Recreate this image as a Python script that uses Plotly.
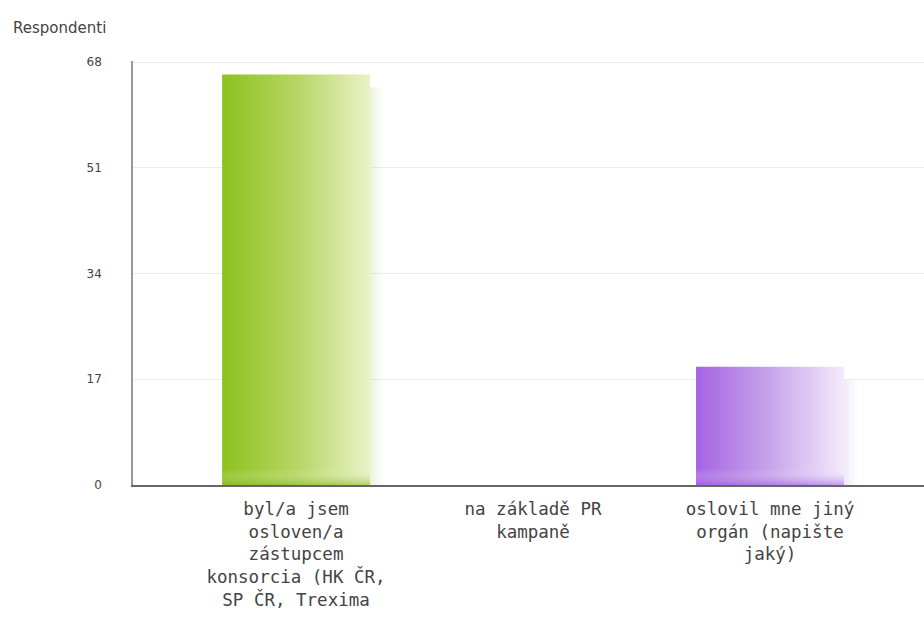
import plotly.graph_objects as go

# ---- data ----
categories = [
    "byl/a jsem<br>osloven/a<br>zástupcem<br>konsorcia (HK ČR,<br>SP ČR, Trexima",
    "na základě PR<br>kampaně",
    "oslovil mne jiný<br>orgán (napište<br>jaký)",
]
values = [66, 0, 19]
y_ticks = [0, 17, 34, 51, 68]
y_title = "Respondenti"

# ---- styles ----
bar_gradients = [
    ("#8cc21e", "#b6d563", "#eaf2c8"),
    ("#8cc21e", "#b6d563", "#eaf2c8"),
    ("#a463e2", "#c8a4ea", "#f3eafc"),
]
shadow_cols = [
    ("rgba(175,205,115,0.45)", "rgba(215,230,180,0.0)"),
    ("rgba(175,205,115,0.45)", "rgba(215,230,180,0.0)"),
    ("rgba(195,165,228,0.45)", "rgba(230,215,245,0.0)"),
]
bottom_cols = ["rgba(130,185,20,0.55)", "rgba(130,185,20,0.55)", "rgba(160,90,225,0.55)"]

BAR_W = 0.624
DX = 0.065   # shadow offset (x units)
DY = 2.1     # shadow offset (y units)

fig = go.Figure()

for i, (v, g, sc, bc) in enumerate(zip(values, bar_gradients, shadow_cols, bottom_cols)):
    if v <= 0:
        continue
    x0, x1 = i - BAR_W / 2, i + BAR_W / 2
    # soft shadow
    fig.add_trace(go.Scatter(
        x=[x0 + DX, x1 + DX, x1 + DX, x0 + DX, x0 + DX],
        y=[0, 0, v - DY, v - DY, 0],
        fill="toself", mode="lines", line=dict(width=0),
        fillgradient=dict(type="horizontal",
                          colorscale=[[0, sc[0]], [0.85, sc[0]], [1, sc[1]]]),
        hoverinfo="skip", showlegend=False,
    ))
    # main bar with horizontal gradient
    fig.add_trace(go.Scatter(
        x=[x0, x1, x1, x0, x0],
        y=[0, 0, v, v, 0],
        fill="toself", mode="lines", line=dict(width=0),
        fillgradient=dict(type="horizontal",
                          colorscale=[[0, g[0]], [0.5, g[1]], [1, g[2]]]),
        hoverinfo="skip", showlegend=False,
    ))
    # darker band near the bottom
    band = 2.6
    fig.add_trace(go.Scatter(
        x=[x0, x1, x1, x0, x0],
        y=[0, 0, band, band, 0],
        fill="toself", mode="lines", line=dict(width=0),
        fillgradient=dict(type="vertical",
                          colorscale=[[0, bc], [1, "rgba(255,255,255,0)"]]),
        hoverinfo="skip", showlegend=False,
    ))

fig.update_layout(
    width=924, height=631,
    margin=dict(l=133, r=0, t=61, b=146),
    paper_bgcolor="white", plot_bgcolor="white",
    font=dict(family="DejaVu Sans Mono", color="#444"),
    xaxis=dict(
        range=[-0.688, 2.65],
        tickmode="array", tickvals=list(range(len(categories))), ticktext=categories,
        showgrid=False, zeroline=False,
        showline=True, linecolor="#666", linewidth=1.5,
        ticks="", ticklabelstandoff=7,
        tickfont=dict(family="DejaVu Sans Mono", size=17.5, color="#444"),
        fixedrange=True,
    ),
    yaxis=dict(
        range=[0, 68.17],
        tickmode="array", tickvals=y_ticks, ticktext=[str(t) for t in y_ticks],
        showgrid=True, gridcolor="#ebebeb", gridwidth=1,
        zeroline=False,
        showline=True, linecolor="#999", linewidth=1.5,
        ticks="", ticklabelstandoff=27,
        tickfont=dict(family="DejaVu Sans", size=12, color="#444"),
        fixedrange=True,
    ),
    annotations=[dict(
        text=y_title, xref="paper", yref="paper", x=0, y=1,
        xanchor="left", yanchor="bottom", xshift=-122, yshift=22,
        showarrow=False,
        font=dict(family="DejaVu Sans", size=15, color="#444"),
    )],
)

fig.write_html("out.html")
